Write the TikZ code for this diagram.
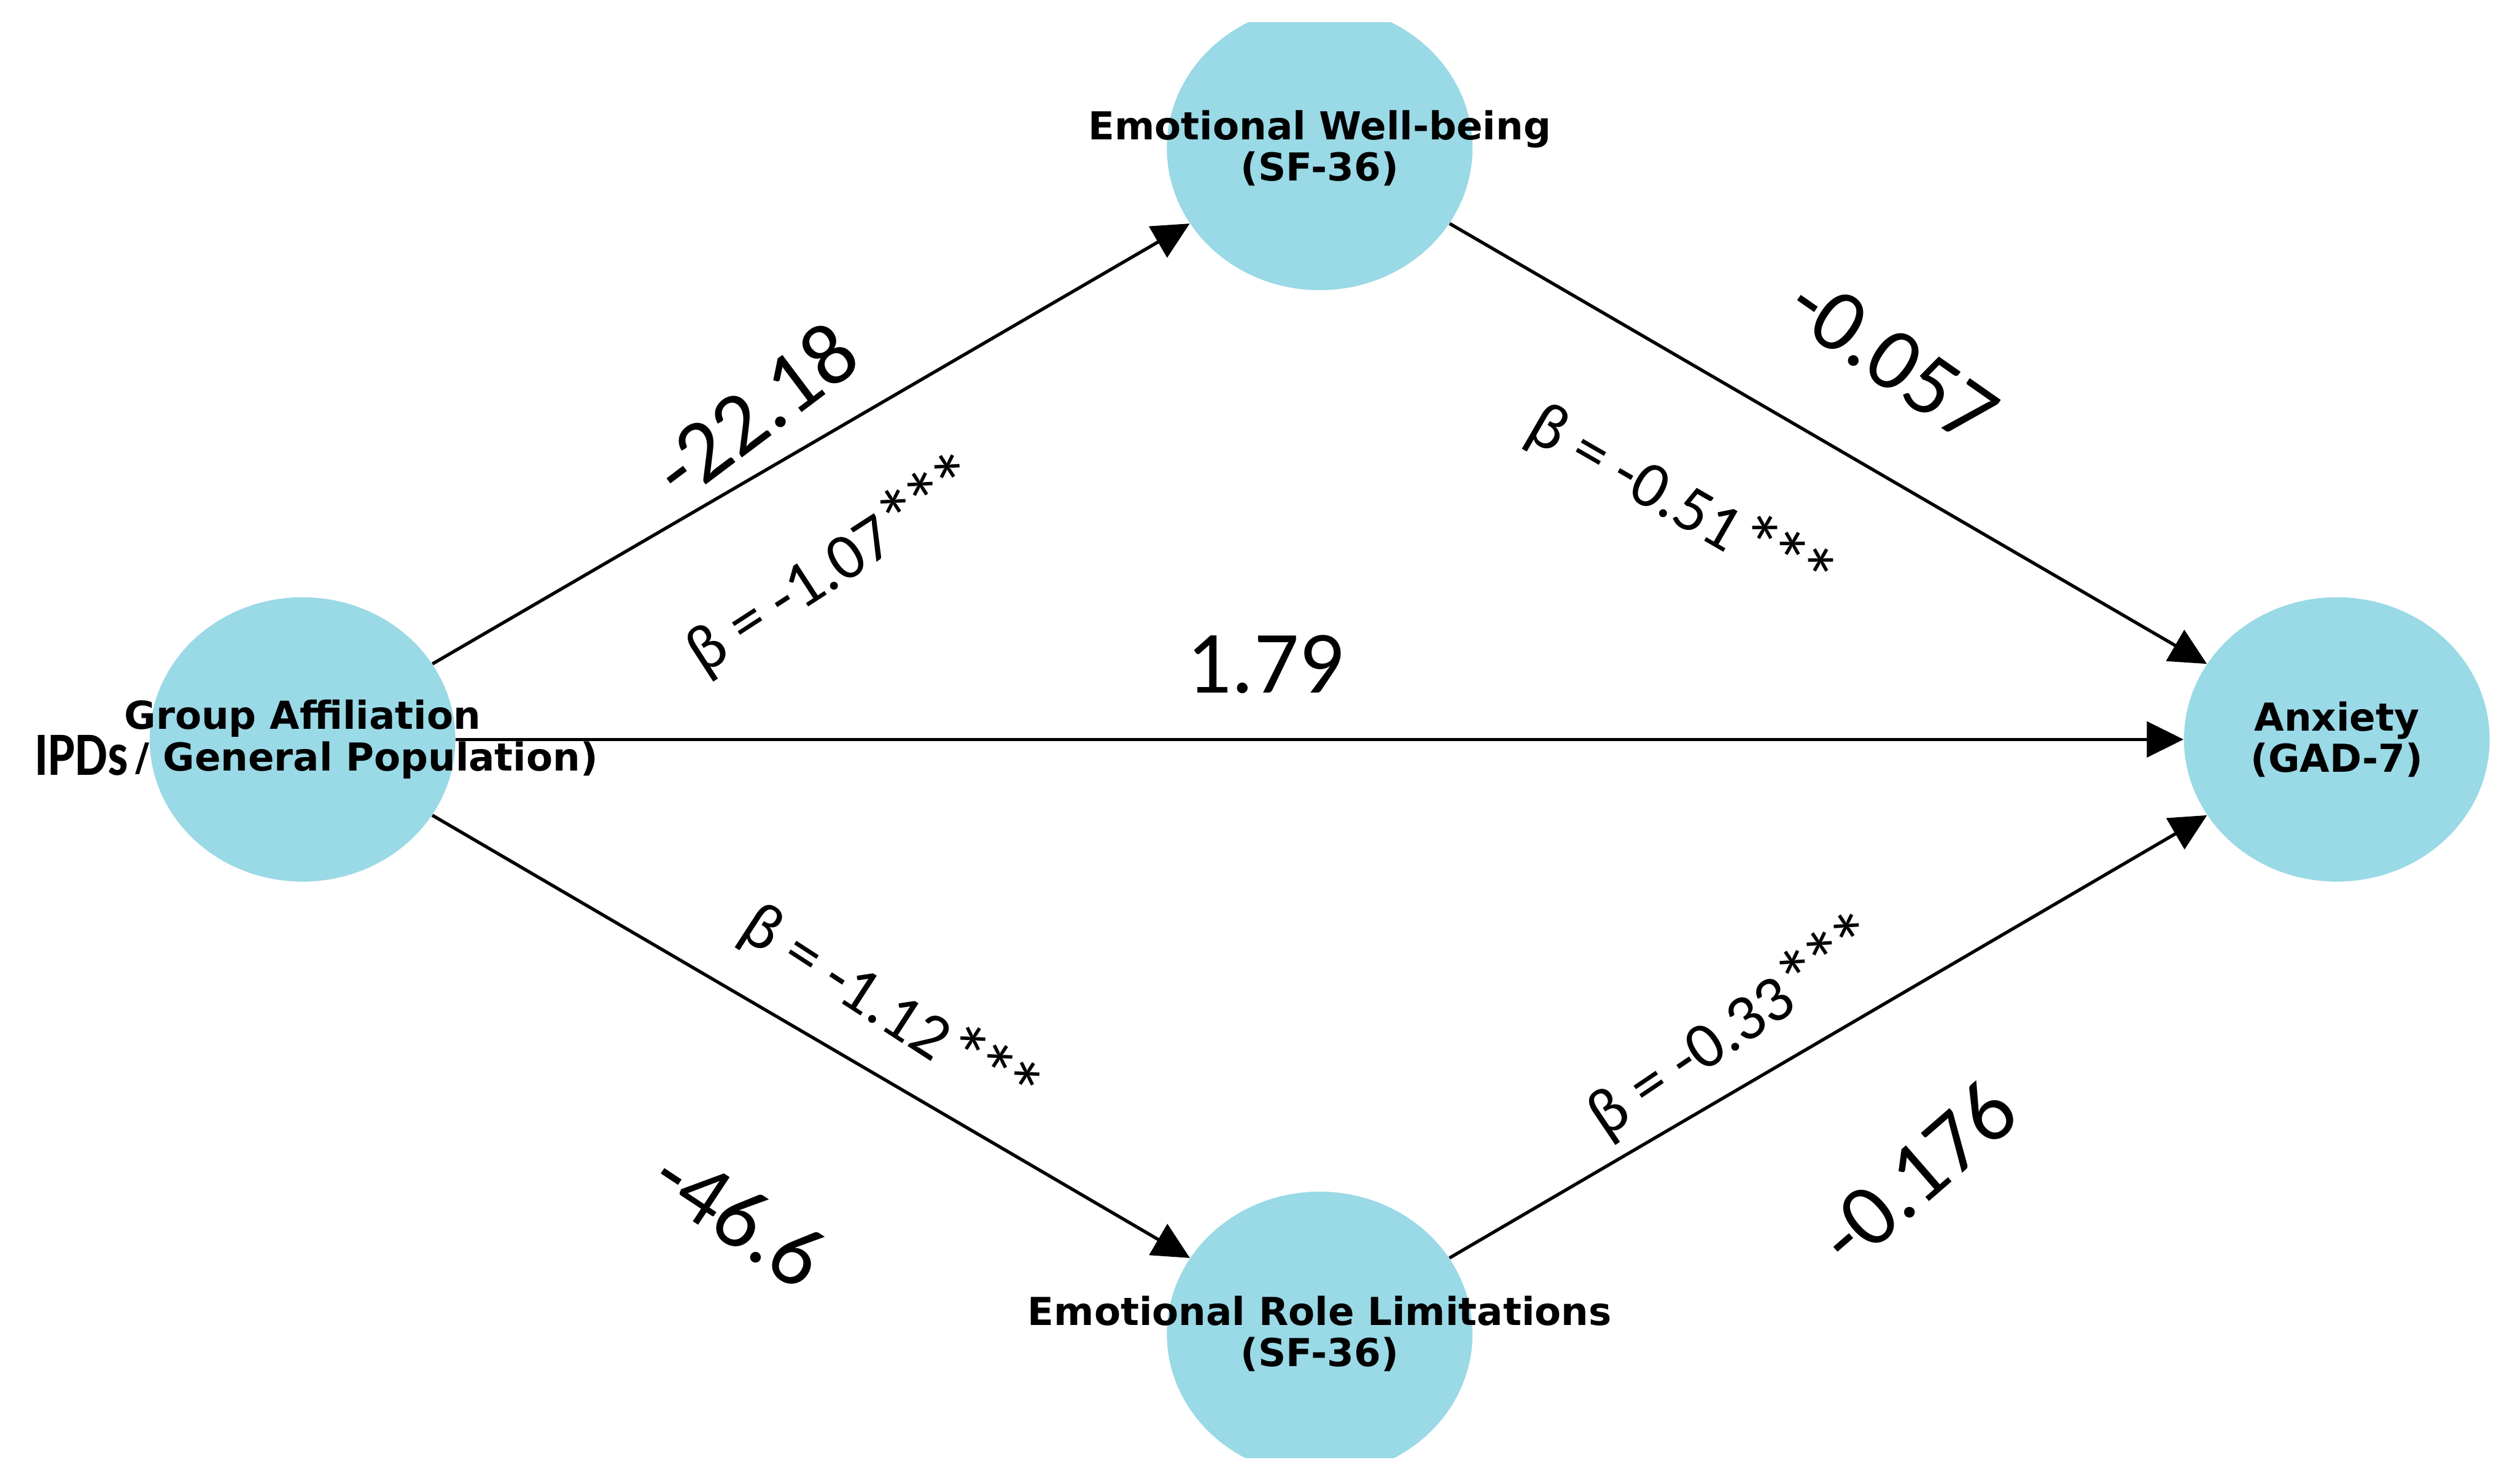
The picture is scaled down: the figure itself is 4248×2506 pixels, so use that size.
\documentclass[tikz,border=0pt]{standalone}
\usepackage{fontspec}
\usepackage{graphicx}
\usetikzlibrary{arrows.meta,shapes.geometric}
\newfontfamily\dejavu{DejaVu Sans}
\newfontfamily\carlito{Carlito}
\newdimen\pxu \pxu=0.01cm
\definecolor{nodeblue}{RGB}{154,217,230}
\newcommand{\twoline}[2]{\makebox[0pt]{\parbox{11cm}{\centering\lineskiplimit=-50pt #1\\#2}}}
\newcommand{\bigstar}{\scalebox{1.25}{*}}
\newcommand{\threestars}{\raisebox{-0.06em}{\bigstar\kern-0.13em\bigstar\kern-0.13em\bigstar}}
\tikzset{
  var/.style={ellipse, fill=nodeblue, minimum width=5.16cm, minimum height=4.80cm, inner sep=0pt,
    font=\dejavu\bfseries\fontsize{18.5pt}{19.9pt}\selectfont},
  conn/.style={line width=0.055cm, -{Triangle[length=0.62cm,width=0.60cm]}},
  coef/.style={font=\carlito\fontsize{42.7pt}{43pt}\selectfont, inner sep=0pt},
  betalab/.style={font=\carlito\fontsize{31.5pt}{32pt}\selectfont, inner sep=0pt}
}
\begin{document}
\begin{tikzpicture}[x=0.01cm, y=-0.01cm]
\useasboundingbox (0,0) rectangle (4248,2506);
\fill[white] (0,0) rectangle (4248,2506);
\begin{scope}
\clip (0,38) rectangle (4248,2463);
\node[var] (G) at (511,1249) {\twoline{Group Affiliation}{\phantom{(IPDs }\llap{\raisebox{-7\pxu}{\carlito\bfseries\fontsize{29.6pt}{30pt}\selectfont\scalebox{0.83}[1]{IPDs}}\hspace{13\pxu}}/ General Population)}};
\node[var] (E) at (2229,250) {\twoline{Emotional Well-being}{(SF-36)}};
\node[var] (R) at (2229,2253) {\twoline{Emotional Role Limitations}{(SF-36)}};
\node[var] (A) at (3947,1249) {\twoline{Anxiety}{(GAD-7)}};
\end{scope}
\draw[conn] (G) -- (E);
\draw[conn] (E) -- (A);
\draw[conn] (G) -- (A);
\draw[conn] (G) -- (R);
\draw[conn] (R) -- (A);
\node[coef, rotate=37] (c1) at (1275,693) {-22.18};
\node[betalab, rotate=33] (b1) at (1408,954) {β = -1.07\threestars};
\node[coef, rotate=-35] (c2) at (3197,607) {-0.057};
\node[betalab, rotate=-30] (b2) at (2840,850) {β = -0.51\threestars};
\node[coef] (c3) at (2137,1122) {1.79};
\node[betalab, rotate=-33] (b3) at (1505,1706) {β = -1.12\threestars};
\node[coef, rotate=-33.5] (c4) at (1249,2055) {-46.6};
\node[betalab, rotate=34] (b4) at (2929,1733) {β = -0.33\threestars};
\node[coef, rotate=41] (c5) at (3238,1981) {-0.176};
\end{tikzpicture}
\end{document}
